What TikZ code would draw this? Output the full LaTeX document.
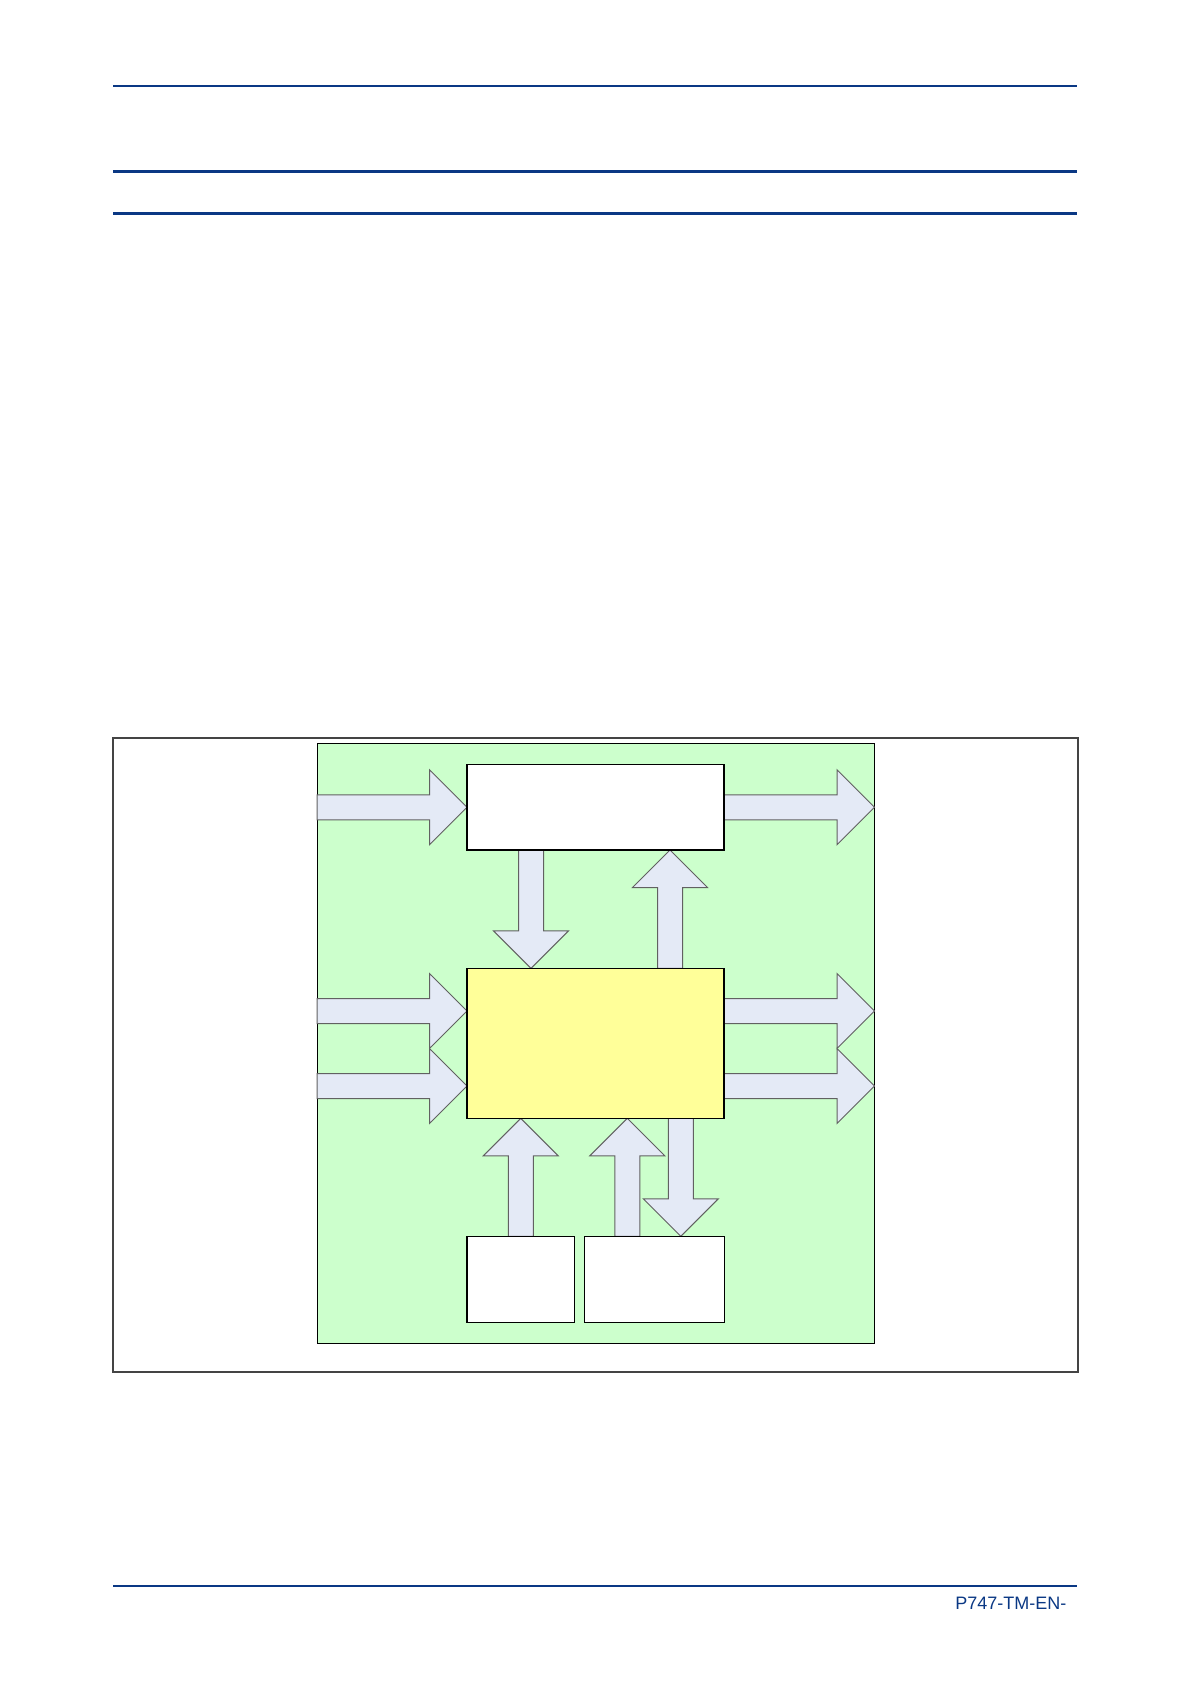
\documentclass[tikz,border=0pt]{standalone}
\usepackage{fontspec}
\setmainfont{Liberation Sans}
\usetikzlibrary{calc,backgrounds}
\definecolor{pageblue}{RGB}{10,56,132}
\definecolor{panelgreen}{RGB}{204,255,204}
\definecolor{coreyellow}{RGB}{255,255,153}
\definecolor{arrowfill}{RGB}{228,234,246}
\definecolor{framegray}{RGB}{68,68,68}
\tikzset{
  plainbox/.style={draw, line width=0.6pt, fill=white, inner sep=0pt, outer sep=0pt, anchor=north west},
  blockarrow/.style={fill=arrowfill, draw=black!62, line width=0.5pt, line join=miter,
    to path={let \p1=(\tikztostart), \p2=(\tikztotarget), \p3=($(\p2)!18.75pt!(\p1)$) in
      ($(\p1)!6.25pt!90:(\p2)$) -- ($(\p3)!6.25pt!90:(\p2)$) -- ($(\p3)!18.75pt!90:(\p2)$)
      -- (\p2) -- ($(\p3)!18.75pt!-90:(\p2)$) -- ($(\p3)!6.25pt!-90:(\p2)$)
      -- ($(\p1)!6.25pt!-90:(\p2)$) -- cycle}}
}
\begin{document}
\begin{tikzpicture}[x=0.5pt, y=-0.5pt]
              \useasboundingbox (0,0) rectangle (1191,1684);
% Rules at the top of the page
              \draw[pageblue, line width=1pt] (113,85.7) -- (1077,85.7);
              \draw[pageblue, line width=1.5pt] (113,171.3) -- (1077,171.3);
              \draw[pageblue, line width=1.5pt] (113,213.3) -- (1077,213.3);
% Frame round the figure
              \draw[framegray, line width=1pt] (113,738.3) rectangle (1078,1371.7);
% Boxes
              \node[plainbox, minimum width=128.5pt, minimum height=42.75pt] (upper) at (467,764.5) {};
              \node[plainbox, fill=coreyellow, minimum width=128.5pt, minimum height=75pt] (core) at (467,968.3) {};
              \node[plainbox, minimum width=53.75pt, minimum height=43pt] (leftbox) at (467,1236.3) {};
              \node[plainbox, minimum width=70pt, minimum height=43pt] (rightbox) at (584.3,1236.3) {};
% Green panel and block arrows, under the boxes
              \begin{scope}[on background layer]
              \node[plainbox, fill=panelgreen, line width=0.5pt, minimum width=278.75pt, minimum height=300pt] (panel) at (317,743.3) {};
              \coordinate (in1) at ($(core.north west)+(0,42.7)$);
              \coordinate (in2) at ($(core.north west)+(0,117.7)$);
              \coordinate (out1) at ($(core.north east)+(0,42.7)$);
              \coordinate (out2) at ($(core.north east)+(0,117.7)$);
              \coordinate (dn) at ($(upper.south west)+(64,0)$);
              \coordinate (up) at ($(upper.south west)+(203,0)$);
              \coordinate (rup) at ($(rightbox.north west)+(43,0)$);
              \coordinate (rdn) at ($(rightbox.north west)+(96.5,0)$);
              \draw[blockarrow] (panel.west |- upper.west) to (upper.west);
              \draw[blockarrow] (upper.east) to (panel.east |- upper.east);
              \draw[blockarrow] (panel.west |- in1) to (in1);
              \draw[blockarrow] (panel.west |- in2) to (in2);
              \draw[blockarrow] (out1) to (panel.east |- out1);
              \draw[blockarrow] (out2) to (panel.east |- out2);
              \draw[blockarrow] (dn) to (dn |- core.north);
              \draw[blockarrow] (up |- core.north) to (up);
              \draw[blockarrow] (leftbox.north) to (leftbox.north |- core.south);
              \draw[blockarrow] (rup) to (rup |- core.south);
              \draw[blockarrow] (rdn |- core.south) to (rdn);
              \end{scope}
% Footer
              \draw[pageblue, line width=1pt] (113,1585.7) -- (1077,1585.7);
              \node[anchor=base east, text=pageblue, font=\fontsize{9}{11}\selectfont, inner sep=0pt] (docref) at (1066.7,1609.3) {P747-TM-EN-};
\end{tikzpicture}
\end{document}
